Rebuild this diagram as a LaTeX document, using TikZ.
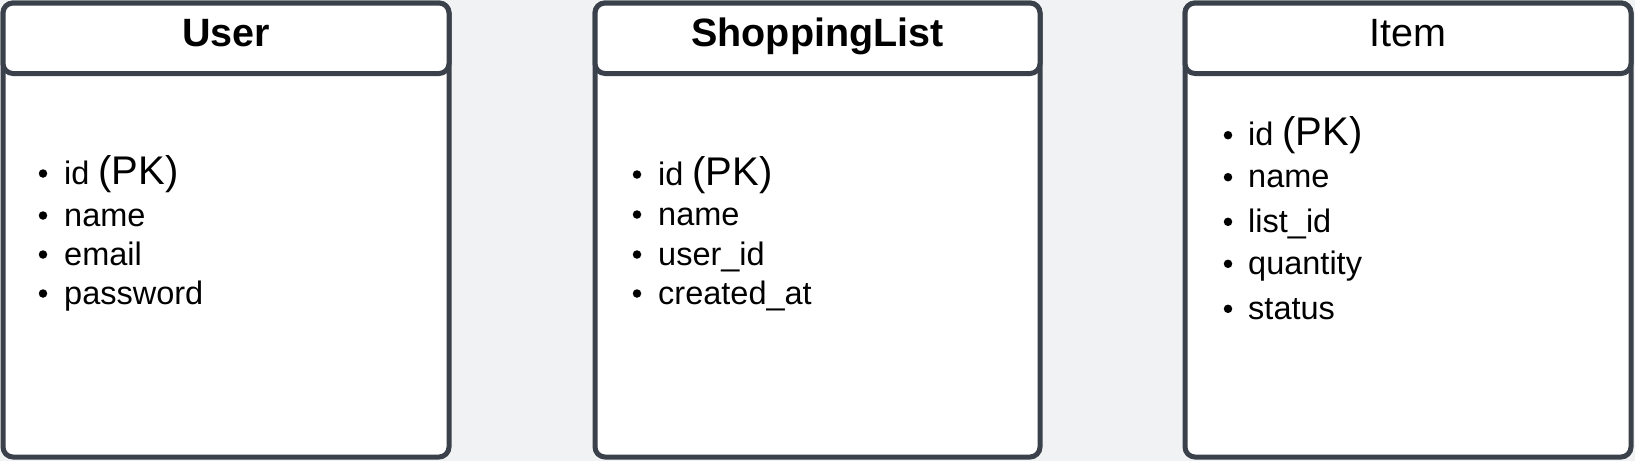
\documentclass[tikz,border=0pt]{standalone}
\usepackage{fontspec}
\setmainfont{Liberation Sans}
\definecolor{edge}{HTML}{3B414B}
\definecolor{canvas}{HTML}{F1F2F4}
\newcommand{\pkfont}{\fontsize{40}{48}\selectfont}

\begin{document}
\begin{tikzpicture}[x=1pt,y=-1pt]
% Background
\fill[canvas] (0,0) rectangle (1635,461);
\useasboundingbox (0,0) rectangle (1635,461);

\tikzstyle{box} = [draw=edge, fill=white, line width=5pt, rounded corners=10pt]
\tikzstyle{title} = [anchor=base, inner sep=0pt, font=\fontsize{39.5}{47}\selectfont]
\tikzstyle{field} = [anchor=base west, inner sep=0pt, font=\fontsize{32.5}{39}\selectfont]
\tikzstyle{dot} = [circle, fill=black, inner sep=0pt, minimum size=8.5pt]

% User
\draw[box] (3,3) rectangle (449,457);
\draw[box] (3,3) rectangle (449,73.5);
\node at (226,46) [title] (user){\textbf{User}};

\node at (43,173.5)[dot](ud1){};
\node at (64,184)[field](uid){id {\pkfont (PK)}};
\node at (43,215.5)[dot](ud2){};
\node at (64,226)[field](uname){name};
\node at (43,254.5)[dot](ud3){};
\node at (64,265)[field](umail){email};
\node at (43,293.5)[dot](ud4){};
\node at (64,304)[field](upass){password};

% ShoppingList
\draw[box] (595,3) rectangle (1040,457);
\draw[box] (595,3) rectangle (1040,73.5);
\node at (817.5,46) [title] (list){\textbf{ShoppingList}};

\node at (637,174.5)[dot](ld1){};
\node at (658,185)[field](lid){id {\pkfont (PK)}};
\node at (637,214.5)[dot](ld2){};
\node at (658,225)[field](lname){name};
\node at (637,254.5)[dot](ld3){};
\node at (658,265)[field](luser){user\_id};
\node at (637,293.5)[dot](ld4){};
\node at (658,304)[field](ldate){created\_at};

% Item
\draw[box] (1185,3) rectangle (1631,457);
\draw[box] (1185,3) rectangle (1631,73.5);
\node at (1408,46) [title] (item){Item};

\node at (1228,135.2)[dot](id1){};
\node at (1248,145.7)[field](iid){id {\pkfont (PK)}};
\node at (1228,177.2)[dot](id2){};
\node at (1248,187.7)[field](iname){name};
\node at (1228,221.8)[dot](id3){};
\node at (1248,232.3)[field](ilist){list\_id};
\node at (1228,263.8)[dot](id4){};
\node at (1248,274.3)[field](iqty){quantity};
\node at (1228,308.8)[dot](id5){};
\node at (1248,319.3)[field](istat){status};

\end{tikzpicture}
\end{document}
